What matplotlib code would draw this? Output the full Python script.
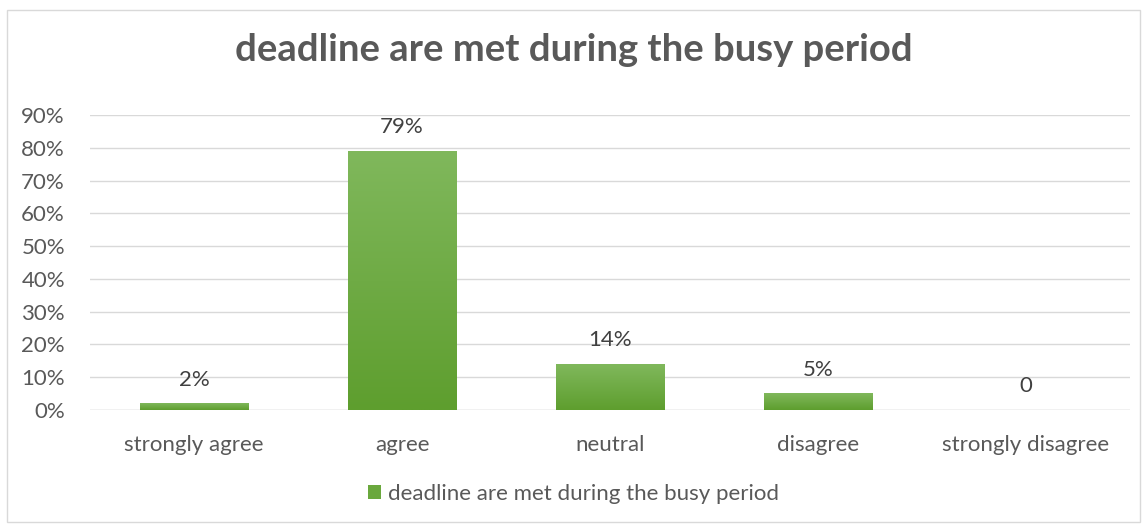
import matplotlib
matplotlib.use("Agg")
import matplotlib.pyplot as plt
import numpy as np
from matplotlib.patches import Rectangle
from matplotlib.colors import LinearSegmentedColormap

categories = ["strongly agree", "agree", "neutral", "disagree", "strongly disagree"]
values = [0.02, 0.79, 0.14, 0.05, 0.0]
value_labels = ["2%", "79%", "14%", "5%", "0"]
series_name = "deadline are met during the busy period"
title = "deadline are met during the busy period"
yticks = [0, 0.1, 0.2, 0.3, 0.4, 0.5, 0.6, 0.7, 0.8, 0.9]

plt.rcParams['font.family'] = ['Lato', 'DejaVu Sans']
gray = "#595959"

fig = plt.figure(figsize=(11.47, 5.29), dpi=100)
fig.patch.set_facecolor("white")
# outer chart border
fig.add_artist(Rectangle((7/1147, 1 - 522/529), 1133/1147, 512/529, transform=fig.transFigure,
                         fill=False, edgecolor="#d9d9d9", linewidth=1))

ax = fig.add_axes([90/1147, 1 - 410/529, 1040/1147, 295/529])
x = np.arange(len(categories))
width = 0.52
cmap = LinearSegmentedColormap.from_list("g", ["#5e9e2e", "#80b85c"])
grad = np.linspace(0, 1, 256).reshape(-1, 1)
bars = ax.bar(x, values, width=width, color="#6aa83d", zorder=2, label=series_name)
for b, v in zip(bars, values):
    if v > 0:
        b.set_facecolor("none")
        ax.imshow(grad, extent=(b.get_x(), b.get_x() + b.get_width(), 0, v), origin="lower",
                  cmap=cmap, aspect="auto", zorder=2)
for xi, v, lab in zip(x, values, value_labels):
    ax.annotate(lab, (xi, v), xytext=(0, 17), textcoords="offset points",
                ha="center", va="center", fontsize=16, color="#404040")

ax.set_xlim(-0.5, len(categories) - 0.5)
ax.set_ylim(0, 0.9)
ax.set_yticks(yticks)
ax.set_yticklabels([f"{int(round(t*100))}%" for t in yticks], fontsize=16, color=gray)
ax.set_xticks(x)
ax.set_xticklabels(categories, fontsize=16, color=gray)
ax.tick_params(axis="both", length=0)
ax.tick_params(axis="x", pad=18)
ax.tick_params(axis="y", pad=18)
ax.yaxis.grid(True, color="#d9d9d9", linewidth=1, zorder=0)
ax.set_axisbelow(True)
for s in ax.spines.values():
    s.set_visible(False)
ax.axhline(0, color="#d9d9d9", linewidth=1, zorder=1)

fig.text(0.5, 1 - 50/529, title, ha="center", va="center", fontsize=27.5, fontweight="bold", color=gray)

handle = Rectangle((0, 0), 1, 1, facecolor="#6aa83d")
fig.legend([handle], [series_name], loc="center", bbox_to_anchor=(0.5, 1 - 494/529), frameon=False,
           fontsize=16, labelcolor=gray, handlelength=0.6, handleheight=0.6, handletextpad=0.3)

fig.savefig("out.png", dpi=100, facecolor="white")
